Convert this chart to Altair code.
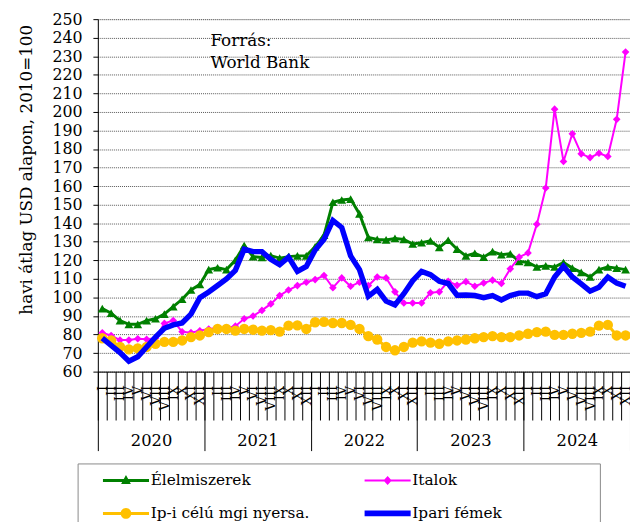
import altair as alt
import pandas as pd

FONT = "DejaVu Serif"

# ---- data (monthly, Jan 2020 - Dec 2024) ----
series_names = ["Élelmiszerek", "Italok", "Ip-i célú mgi nyersa.", "Ipari fémek"]
year_labels = ["2020", "2021", "2022", "2023", "2024"]
month_labels = ["I", "II", "III", "IV", "V", "VI", "VII", "VIII", "IX", "X", "XI", "XII"]
source_lines = ["Forrás:", "World Bank"]
y_title = "havi átlag USD alapon, 2010=100"

elelmiszerek = [94, 91.5, 87.5, 85.5, 85.5, 87.5, 88.5, 91, 95, 99, 104, 107,
                115, 116, 115, 120, 128, 122, 121.5, 122.5, 121.2, 122, 122.4, 122.4,
                127.3, 133.5, 151.3, 152.5, 153, 145, 132.3, 131.3, 131, 131.8, 131.3, 128.8,
                129.5, 130.5, 127, 130.8, 126, 122.4, 123.8, 121.7, 124.7, 123, 123.5, 119.4,
                118.8, 116.4, 117, 116.4, 118.8, 115.8, 113.5, 111, 115, 116.4, 115.8, 115]
italok = [80.9, 79.5, 77, 77, 77.7, 77.4, 78, 86, 87.5, 81.5, 81, 82,
          83, 83.5, 83.5, 84.5, 88.5, 90, 93, 96.5, 101, 104, 106.4, 108.2,
          109.6, 111.8, 105.2, 110.5, 106, 108.2, 106.4, 111, 110.5, 103, 97, 97,
          97, 102.5, 103, 108.7, 106.5, 108.5, 106, 107.8, 109.3, 107.5, 115.4, 121.7,
          124, 139.5, 159, 201.5, 173.3, 188.2, 177.4, 175.4, 177.7, 176, 196, 232.3]
ip_nyersa = [78, 76.8, 73.3, 72, 72.5, 73.3, 75, 76, 76, 76.8, 78.6, 79.5,
             81.3, 83, 83, 82.1, 83, 82.6, 82.1, 82.4, 81.6, 84.8, 84.9, 83,
             86.6, 86.8, 86.2, 86.2, 85.2, 83, 79.1, 77.3, 73.3, 71.5, 73.3, 75.6,
             76.3, 75.6, 75, 76.3, 76.8, 77.3, 78, 78.6, 79.1, 78.6, 78.6, 79.5,
             80.4, 81.3, 81.6, 79.8, 79.8, 80.4, 80.9, 81.6, 84.8, 85.2, 79.5, 79.5]
ipari_femek = [78, 74.2, 70.3, 65.6, 68, 73.3, 78.6, 83.4, 85.2, 86.2, 91, 99.9,
               102.9, 106.4, 110, 114.6, 126, 124.7, 124.7, 120.5, 117.6, 121.7, 114, 116.7,
               125.6, 131.3, 141.5, 137.7, 122.4, 115, 100.6, 104.3, 98, 96, 102, 109,
               114, 112.3, 108.7, 107.5, 101.2, 101.3, 101, 99.9, 101, 98.6, 101, 102.3,
               102.3, 100.4, 102, 111, 116.8, 111, 107.3, 103.4, 105.5, 111, 107.7, 106]

all_values = [elelmiszerek, italok, ip_nyersa, ipari_femek]
n_months = len(elelmiszerek)

rows = []
for sid, (name, vals) in enumerate(zip(series_names, all_values)):
    for m, v in enumerate(vals):
        rows.append({"month": m, "value": v, "series": name, "sid": sid})
df = pd.DataFrame(rows)

# ---- styles ----
colors = ["#008000", "#FF00FF", "#FFC000", "#0000FF"]
line_widths = [3, 2, 3, 5.5]
point_shapes = ["triangle-up", "diamond", "circle", None]
point_sizes = [80, 60, 110, 0]

# legend symbols: filled line segment + marker (unit path, scaled by sqrt(size)/2 = 11px)
legend_paths = [
    "M-2.12,-0.136H2.12V0.136H-2.12ZM0,-0.5L0.45,0.33L-0.45,0.33Z",
    "M18.95,0M-2.12,-0.09H2.12V0.09H-2.12ZM0,-0.41L0.38,0L0,0.41L-0.38,0Z",
    "M-2.12,-0.136H2.12V0.136H-2.12ZM-0.49,0A0.49,0.49,0,1,1,0.49,0A0.49,0.49,0,1,1,-0.49,0Z",
    "M18.95,0M-2.12,-0.27H2.12V0.27H-2.12Z",
]

x_scale = alt.Scale(domain=[-0.5, n_months - 0.5], nice=False, zero=False)
y_scale = alt.Scale(domain=[60, 250], nice=False, zero=False)

y_axis = alt.Axis(
    values=list(range(60, 251, 10)), title=y_title, grid=True,
    gridColor="#555555", gridDash=[1, 1], gridWidth=1,
    tickSize=5, tickColor="black", domainColor="black",
    labelFont=FONT, labelFontSize=16, labelColor="black", labelPadding=11,
    labelOverlap=False,
    titleFont=FONT, titleFontSize=17, titleFontWeight="normal", titleColor="black",
    titleAngle=270, titleX=-67, titleY=152, titleAlign="center", titleBaseline="alphabetic",
)

month_bounds = [m - 0.5 for m in range(n_months + 1)]
month_centers = list(range(n_months))
year_bounds = [12 * i - 0.5 for i in range(len(year_labels) + 1)]
year_centers = [12 * i + 5.5 for i in range(len(year_labels))]
year_expr = "[" + ",".join("'%s'" % y for y in year_labels) + "][floor(datum.value / 12)]"
month_expr = "[" + ",".join("'%s'" % m for m in month_labels) + "][datum.value % 12]"

axis_months = alt.Axis(orient="bottom", values=month_bounds, tickSize=49, tickColor="black",
                       tickWidth=1, labels=False, domain=True, domainColor="black",
                       grid=False, title=None)
axis_years = alt.Axis(orient="bottom", values=year_bounds, tickSize=80, tickColor="black",
                      tickWidth=1, labels=False, domain=False, grid=False, title=None)
axis_year_labels = alt.Axis(orient="bottom", values=year_centers, ticks=False, tickSize=0,
                            labelExpr=year_expr, labelFont=FONT, labelFontSize=16.5,
                            labelColor="black", labelPadding=75, labelBaseline="alphabetic",
                            labelOverlap=False, labelFlush=False, domain=False, grid=False,
                            title=None)
axis_month_labels = alt.Axis(orient="bottom", values=month_centers, ticks=False, tickSize=0,
                             labelExpr=month_expr, labelFont=FONT, labelFontSize=13,
                             labelColor="black", labelPadding=14, labelAngle=270,
                             labelAlign="right", labelBaseline="middle",
                             labelOverlap=False, labelFlush=False, labelBound=False,
                             domain=False, grid=False, title=None)
x_axes = [axis_months, axis_years, axis_year_labels, axis_month_labels]

layers = []
for sid, name in enumerate(series_names):
    base = alt.Chart(df).transform_filter(alt.datum.sid == sid)
    layers.append(
        base.mark_line(color=colors[sid], strokeWidth=line_widths[sid]).encode(
            x=alt.X("month:Q", scale=x_scale, axis=x_axes[sid]),
            y=alt.Y("value:Q", scale=y_scale, axis=y_axis),
        )
    )
    if point_shapes[sid]:
        layers.append(
            base.mark_point(filled=True, shape=point_shapes[sid], size=point_sizes[sid],
                            color=colors[sid], opacity=1).encode(
                x=alt.X("month:Q", scale=x_scale, axis=None),
                y=alt.Y("value:Q", scale=y_scale, axis=y_axis),
            )
        )

legend_spec = alt.Legend(
    title=None, orient="none", legendX=-20.5, legendY=450, columns=2, direction="horizontal",
    columnPadding=36, rowPadding=13.6, padding=6, strokeColor="#888888",
    fillColor="white", labelFont=FONT, labelFontSize=15.5, labelFontWeight="normal",
    labelColor="black", labelLimit=400, labelOffset=14, symbolOffset=32,
    symbolSize=484, symbolOpacity=1, symbolStrokeWidth=0,
)
legend_layer = alt.Chart(df).mark_point(filled=True, opacity=0, strokeWidth=0).encode(
    x=alt.X("month:Q", scale=x_scale, axis=None),
    y=alt.Y("value:Q", scale=y_scale, axis=y_axis),
    color=alt.Color("series:N", scale=alt.Scale(domain=series_names, range=colors),
                    legend=legend_spec),
    shape=alt.Shape("series:N", scale=alt.Scale(domain=series_names, range=legend_paths),
                    legend=legend_spec),
)
layers.append(legend_layer)

note = alt.Chart(pd.DataFrame({"t": ["\n".join(source_lines)]})).mark_text(
    align="left", baseline="alphabetic", lineBreak="\n", lineHeight=21.7,
    font=FONT, fontSize=17, color="black",
).encode(x=alt.value(114), y=alt.value(27.5), text="t:N")
layers.append(note)

chart = alt.layer(*layers).resolve_axis(x="independent").properties(
    width=539, height=357,
    padding={"left": 91, "top": 8, "right": 0, "bottom": 149},
    autosize=alt.AutoSizeParams(type="none"),
).configure_view(stroke="black", strokeWidth=1).configure(background="white").configure_legend(
    labelFont=FONT, labelFontWeight="normal"
)

chart.save("out.html", embed_options={"renderer": "svg", "actions": False})
